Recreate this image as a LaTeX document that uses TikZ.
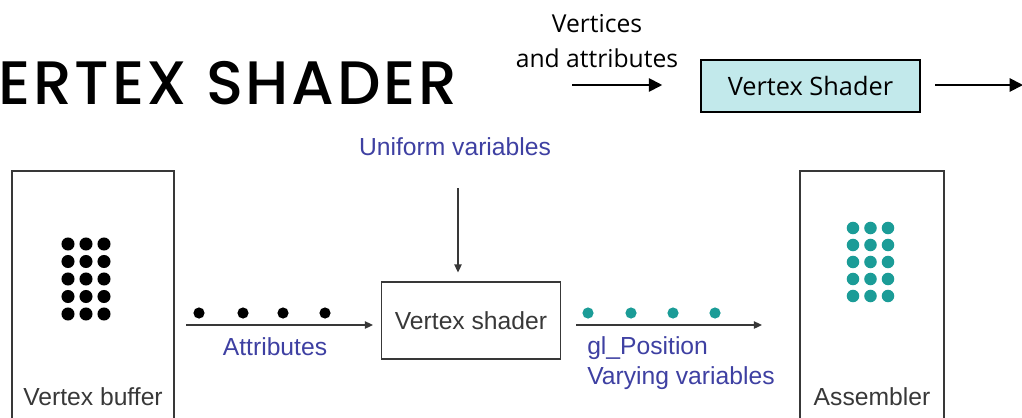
\documentclass[tikz,border=0pt]{standalone}
\usepackage{fontspec}
\setmainfont{Liberation Sans}
\newfontfamily\titlefont{Poppins Medium}[LetterSpace=4.5]
\newfontfamily\pipefont{Open Sans}
\usepackage{xcolor}
\definecolor{labelblue}{HTML}{3E40A2}
\definecolor{dotteal}{HTML}{1B9C97}
\definecolor{stagecyan}{HTML}{C2E9EB}
\definecolor{boxgray}{HTML}{383838}
\usetikzlibrary{arrows.meta,positioning}

\tikzset{
  panel/.style={draw=boxgray, line width=1.1pt, minimum width=#1, minimum height=188pt, inner sep=0pt},
  flow/.style={draw=boxgray, line width=1.1pt, -{Triangle[length=6pt,width=5.5pt]}},
  pipe/.style={line width=1.4pt, -{Triangle[length=10pt,width=10pt]}},
  plain/.style={font=\fontsize{18.5}{22}\selectfont, text=boxgray},
  bluelbl/.style={font=\fontsize{18.5}{22}\selectfont, text=labelblue},
}

\begin{document}
\begin{tikzpicture}[x=0.75pt,y=-0.75pt]
  \useasboundingbox (0,0) rectangle (1022,418);

  % heading, cut at the left edge
  \node[font=\titlefont\fontsize{46}{46}\selectfont, anchor=base west, inner sep=0pt] (title) at (-2,104) {ERTEX SHADER};

  % pipeline strip
  \node[font=\pipefont\fontsize{18.5}{26}\selectfont, align=center] (vtxin) at (597,41) {Vertices\\and attributes};
  \node[draw, fill=stagecyan, line width=1.4pt, minimum width=164pt, minimum height=39pt,
        font=\pipefont\fontsize{19}{22}\selectfont] (stage) at (810.5,86) {Vertex Shader};
  \coordinate (pipein) at (572,85);
  \coordinate (pipeout) at (1023,85);
  \draw[pipe, shorten >=28.5pt] (pipein) -- (pipein -| stage.west);
  \draw[pipe, shorten <=11pt] (stage.east |- pipeout) -- (pipeout);

  % boxes
  \node[panel=121.5pt] (vbuf) at (93,296.5) {};
  \node[panel=108pt] (assembler) at (872,296.5) {};
  \node[draw=boxgray, line width=1.1pt, minimum width=134pt, minimum height=58pt, plain] (shader) at (471,320.5) {Vertex shader};
  \node[plain, anchor=base] (vbuflbl) at (93,405) {Vertex buffer};
  \node[plain, anchor=base] (asmlbl) at (872,405) {Assembler};

  % vertex grids
  \foreach \c in {0,1,2}
    \foreach \r in {0,...,4} {
      \fill[black] (68+18*\c,244+17.5*\r) circle (4.9pt);
      \fill[dotteal] (853+17.5*\c,228+17*\r) circle (4.7pt);
    }

  % uniform input
  \node[bluelbl] (uniform) at (455,147) {Uniform variables};
  \coordinate (unifstart) at (458,188);
  \draw[flow, shorten >=6.5pt] (unifstart) -- (unifstart |- shader.north);

  % attributes in
  \coordinate (attrstart) at (186,325);
  \draw[flow, shorten >=6pt] (attrstart) -- (attrstart -| shader.west);
  \foreach \x in {199,243,283,325}
    \fill[black] (\x,313) circle (4.2pt);
  \node[bluelbl] (attrlbl) at (275,347) {Attributes};

  % varyings out
  \coordinate (outstart) at (576,325);
  \draw[flow, shorten >=28pt] (outstart) -- (outstart -| assembler.west);
  \foreach \x in {588,631,673,715}
    \fill[dotteal] (\x,313) circle (4.2pt);
  \node[bluelbl, align=left, anchor=west, inner sep=0pt] (varylbl) at (587,363) {gl\_Position\\Varying variables};
\end{tikzpicture}
\end{document}
